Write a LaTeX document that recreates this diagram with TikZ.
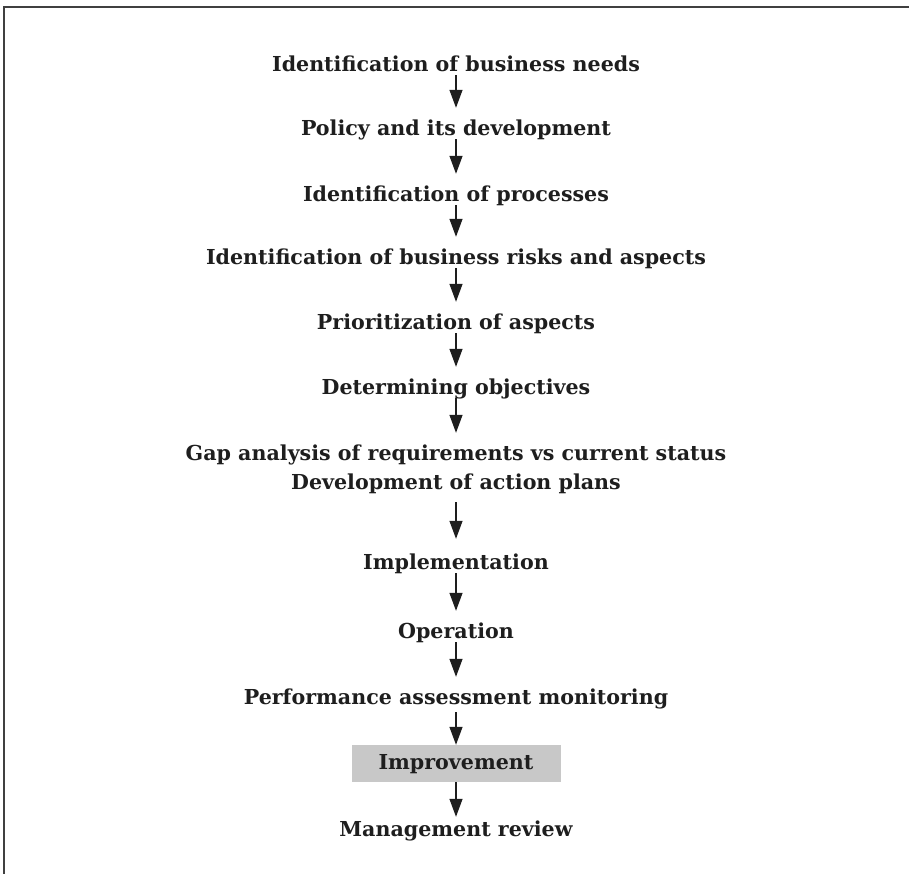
\documentclass[tikz,border=0pt]{standalone}
\usepackage{fontspec}
\setmainfont{DejaVu Serif}
\usetikzlibrary{arrows.meta}
\definecolor{ink}{HTML}{1E1E1E}
\definecolor{boxgray}{HTML}{C8C8C8}
\tikzset{
  stage/.style={font=\fontsize{20.6}{24}\selectfont\bfseries, text=ink, inner sep=0pt,
                text height=14.5pt, text depth=3.5pt, anchor=base},
  flow/.style={draw=ink, line width=1.3pt, -{Triangle[width=13pt,length=18pt]},
               shorten >=13pt},
  frameline/.style={draw=ink!85, line width=1.4pt},
}
\begin{document}
\begin{tikzpicture}[x=1pt,y=-1pt]
  \useasboundingbox (0,0) rectangle (909,874);
  % open frame: top and left edges only
  \draw[frameline] (4,874) -- (4,7) -- (909,7);

  \node[stage] (s1)  at (456,71.5)  {Identification of business needs};
  \node[stage] (s2)  at (456,135.5) {Policy and its development};
  \node[stage] (s3)  at (456,201.5) {Identification of processes};
  \node[stage] (s4)  at (456,264.5) {Identification of business risks and aspects};
  \node[stage] (s5)  at (456,329.5) {Prioritization of aspects};
  \node[stage] (s6)  at (456,394.5) {Determining objectives};
  \node[stage] (s7a) at (456,460.5) {Gap analysis of requirements vs current status};
  \node[stage] (s7b) at (456,489.5) {Development of action plans};
  \node[stage] (s8)  at (456,569.5) {Implementation};
  \node[stage] (s9)  at (456,638.5) {Operation};
  \node[stage] (s10) at (456,704.5) {Performance assessment monitoring};
  \node[stage, fill=boxgray, minimum width=209pt, minimum height=37pt, anchor=center,
        text height=14.5pt, text depth=3.5pt]
        (s11) at (456,763.5) {Improvement};
  \node[stage] (s12) at (456,836.5) {Management review};

  \draw[flow] (s1.south)  -- (s2.north);
  \draw[flow] (s2.south)  -- (s3.north);
  \draw[flow] (s3.south)  -- (s4.north);
  \draw[flow] (s4.south)  -- (s5.north);
  \draw[flow] (s5.south)  -- (s6.north);
  \draw[flow] (s6.south)  -- (s7a.north);
  \draw[flow, shorten <=9pt, shorten >=16pt] (s7b.south) -- (s8.north);
  \draw[flow] (s8.south)  -- (s9.north);
  \draw[flow] (s9.south)  -- (s10.north);
  \draw[flow, shorten <=4pt, shorten >=0pt] (s10.south) -- (s11.north);
  \draw[flow, shorten >=5pt] (s11.south) -- (s12.north);
\end{tikzpicture}
\end{document}
